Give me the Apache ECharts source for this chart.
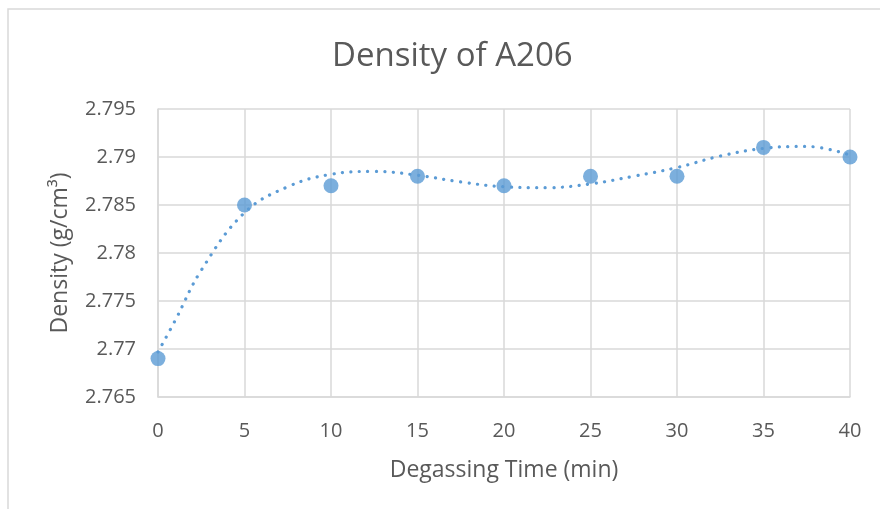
<!DOCTYPE html>
<html>
<head>
<meta charset="utf-8">
<script src="https://cdn.jsdelivr.net/npm/echarts@6/dist/echarts.min.js"></script>
<style>
  html, body { margin: 0; padding: 0; background: #fff; }
  #chart { width: 880px; height: 509px; }
</style>
</head>
<body>
<div id="chart"></div>
<script>
// Measured density of A206 at each degassing time
const degassTime = [0, 5, 10, 15, 20, 25, 30, 35, 40];
const density = [2.769, 2.785, 2.787, 2.788, 2.787, 2.788, 2.788, 2.791, 2.790];

// Polynomial trendline, sampled along the curve
const trendTime = [0, 1, 2.5, 5, 7.5, 10, 12.5, 15, 17.5, 20, 22.5, 25, 27.5, 30, 32.5, 35, 37.5, 40];
const trendDensity = [2.7697, 2.7730, 2.7782, 2.7842, 2.7869, 2.7882, 2.7885, 2.7881, 2.7874, 2.7869,
                      2.7868, 2.7872, 2.7880, 2.7889, 2.7901, 2.7909, 2.7911, 2.7902];

const FONT = '"Open Sans", Lato, sans-serif';
const TEXT = '#595959';
const GRID = '#d9d9d9';
const BLUE = '#5B9BD5';

const chart = echarts.init(document.getElementById('chart'), null, { renderer: 'canvas' });
chart.setOption({
  backgroundColor: '#fff',
  animation: false,
  graphic: [{
    type: 'rect',
    shape: { x: 8, y: 9, width: 900, height: 540 },
    style: { fill: 'none', stroke: GRID, lineWidth: 1.5 },
    z: -1
  }],
  title: {
    text: 'Density of A206',
    left: 327,
    top: 35,
    textStyle: { fontFamily: FONT, fontSize: 33, fontWeight: 'normal', color: TEXT }
  },
  grid: { left: 158, top: 109, right: 30, bottom: 112 },
  xAxis: {
    type: 'value',
    min: 0, max: 40, interval: 5,
    name: 'Degassing Time (min)',
    nameLocation: 'middle',
    nameGap: 62,
    nameTextStyle: { fontFamily: FONT, fontSize: 23, color: TEXT },
    axisLine: { show: true, lineStyle: { color: GRID, width: 1.5 } },
    axisTick: { show: false },
    axisLabel: { fontFamily: FONT, fontSize: 20, color: TEXT, margin: 24 },
    splitLine: { show: true, lineStyle: { color: GRID, width: 1.5 } }
  },
  yAxis: {
    type: 'value',
    min: 2.765, max: 2.795, interval: 0.005,
    name: 'Density (g/cm\u00B3)',
    nameLocation: 'middle',
    nameGap: 86,
    nameRotate: 90,
    nameTextStyle: { fontFamily: FONT, fontSize: 23, color: TEXT },
    axisLine: { show: true, lineStyle: { color: GRID, width: 1.5 } },
    axisTick: { show: false },
    axisLabel: {
      fontFamily: FONT, fontSize: 20, color: TEXT, margin: 22,
      formatter: v => String(parseFloat(v.toFixed(3)))
    },
    splitLine: { show: true, lineStyle: { color: GRID, width: 1.5 } }
  },
  series: [
    {
      name: 'Trend',
      type: 'line',
      data: trendTime.map((t, i) => [t, trendDensity[i]]),
      smooth: 0.4,
      showSymbol: false,
      symbol: 'none',
      lineStyle: { color: BLUE, width: 3.2, type: [0.1, 8.4], cap: 'round' },
      z: 2
    },
    {
      name: 'Density',
      type: 'scatter',
      data: degassTime.map((t, i) => [t, density[i]]),
      symbol: 'circle',
      symbolSize: 15,
      itemStyle: { color: BLUE },
      z: 3
    }
  ]
});
</script>
</body>
</html>
